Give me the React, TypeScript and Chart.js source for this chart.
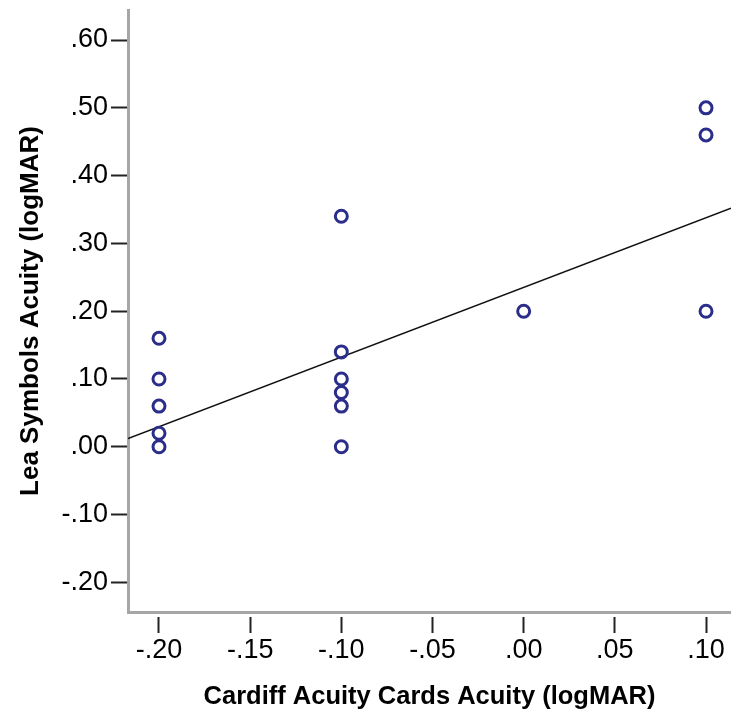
import React, { useEffect, useRef } from "react";
import { Chart, registerables } from "chart.js";

Chart.register(...registerables);

const cardiffX = [-0.2, -0.2, -0.2, -0.2, -0.2, -0.1, -0.1, -0.1, -0.1, -0.1, -0.1, 0.0, 0.1, 0.1, 0.1];
const leaY = [0.16, 0.10, 0.06, 0.02, 0.00, 0.34, 0.14, 0.10, 0.08, 0.06, 0.00, 0.20, 0.50, 0.46, 0.20];

const fitX = [-0.217, 0.1137];
const fitY = [0.012, 0.352];

const xTicks = [-0.2, -0.15, -0.1, -0.05, 0.0, 0.05, 0.1];
const yTicks = [-0.2, -0.1, 0.0, 0.1, 0.2, 0.3, 0.4, 0.5, 0.6];

const xTitle = "Cardiff Acuity Cards Acuity (logMAR)";
const yTitle = "Lea Symbols Acuity (logMAR)";

const fmt = (v: number) => {
  const s = Math.abs(v) < 1e-9 ? "0.00" : v.toFixed(2);
  return s.replace(/^(-?)0\./, "$1.");
};

const FONT = "'Liberation Sans', Arial, sans-serif";

export default function App() {
  const ref = useRef<HTMLCanvasElement | null>(null);
  useEffect(() => {
    document.body.style.margin = "0";
    const ctx = ref.current!;
    const chart = new Chart(ctx, {
      type: "scatter",
      data: {
        datasets: [
          {
            data: cardiffX.map((x, i) => ({ x, y: leaY[i] })),
            pointStyle: "circle",
            pointRadius: 6,
            pointBorderWidth: 3,
            pointBackgroundColor: "rgba(0,0,0,0)",
            pointBorderColor: "#2b2d8a",
            showLine: false,
          },
          {
            data: fitX.map((x, i) => ({ x, y: fitY[i] })),
            showLine: true,
            borderColor: "#111111",
            borderWidth: 1.5,
            pointRadius: 0,
            fill: false,
          },
        ],
      },
      options: {
        animation: false,
        responsive: false,
        maintainAspectRatio: false,
        layout: { autoPadding: false, padding: { top: 10, right: 0, bottom: 0, left: 0 } },
        plugins: { legend: { display: false }, tooltip: { enabled: false } },
        scales: {
          x: {
            type: "linear",
            min: -0.217,
            max: 0.1137,
            afterBuildTicks: (s: any) => {
              s.ticks = xTicks.map((v) => ({ value: v }));
            },
            afterFit: (s: any) => {
              s.height = 103;
              s.paddingLeft = 0;
              s.paddingRight = 0;
            },
            border: { display: true, color: "#a6a6a6", width: 3 },
            grid: {
              drawOnChartArea: false,
              drawTicks: true,
              tickLength: 21,
              tickColor: "#222222",
              tickWidth: 2,
              tickBorderDash: [0, 3, 18, 100],
            },
            ticks: {
              color: "#000000",
              font: { family: FONT, size: 27 },
              padding: 1,
              maxRotation: 0,
              autoSkip: false,
              callback: (v: any) => fmt(Number(v)),
            },
            title: {
              display: true,
              text: xTitle,
              color: "#000000",
              font: { family: FONT, size: 25.5, weight: "bold" },
              padding: { top: 0, bottom: 3 },
            },
          },
          y: {
            type: "linear",
            min: -0.2437,
            max: 0.6443,
            afterBuildTicks: (s: any) => {
              s.ticks = yTicks.map((v) => ({ value: v }));
            },
            afterFit: (s: any) => {
              s.width = 128;
              s.paddingTop = 0;
              s.paddingBottom = 0;
            },
            border: { display: true, color: "#a6a6a6", width: 3 },
            grid: {
              drawOnChartArea: false,
              drawTicks: true,
              tickLength: 17,
              tickColor: "#222222",
              tickWidth: 2,
            },
            ticks: {
              color: "#000000",
              font: { family: FONT, size: 27 },
              padding: 3,
              autoSkip: false,
              callback: (v: any) => fmt(Number(v)),
            },
            title: {
              display: true,
              text: yTitle,
              color: "#000000",
              font: { family: FONT, size: 26, weight: "bold" },
              padding: { top: 15, bottom: 0 },
            },
          },
        },
      },
    });
    return () => chart.destroy();
  }, []);
  return (
    <div style={{ width: 731, height: 715, background: "#ffffff" }}>
      <canvas ref={ref} width={731} height={715} style={{ display: "block" }} />
    </div>
  );
}
